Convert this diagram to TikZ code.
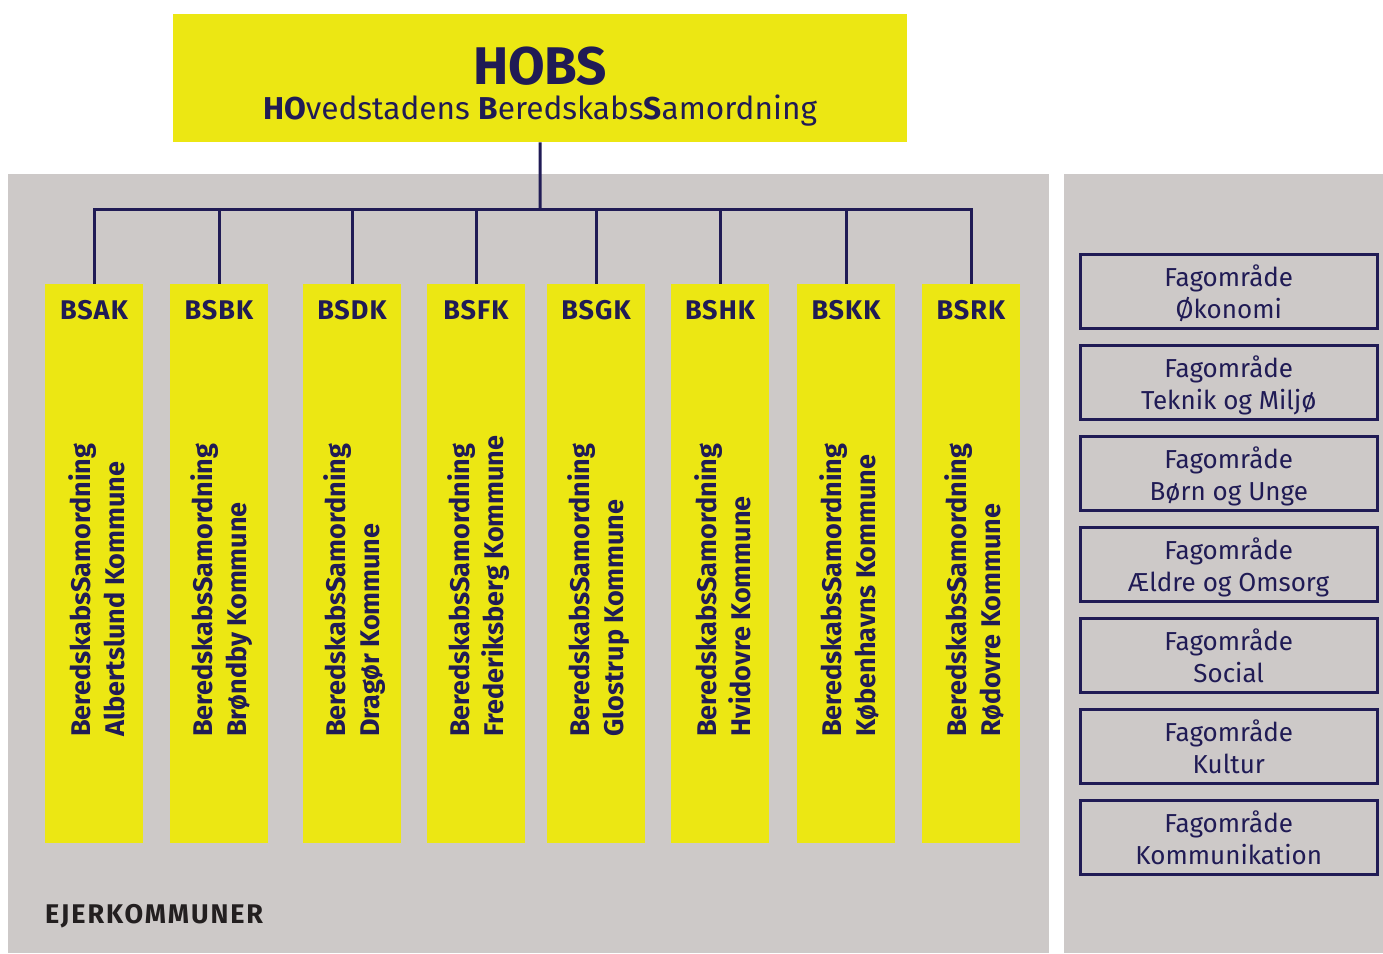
\documentclass[tikz,border=0pt]{standalone}
\usepackage{fontspec}
\setmainfont{Fira Sans}
\definecolor{hyellow}{HTML}{ECE713}
\definecolor{hgray}{HTML}{CDC9C8}
\definecolor{hnavy}{HTML}{201B55}
\definecolor{hdark}{HTML}{231F20}
\begin{document}
\begin{tikzpicture}[x=1pt,y=-1pt,
  panel/.style={fill=hgray,draw=none,anchor=north west,inner sep=0,outer sep=0},
  colbox/.style={fill=hyellow,draw=none,anchor=north west,inner sep=0,outer sep=0,minimum width=98,minimum height=559},
  collabel/.style={text=hnavy,font=\fontsize{27}{30}\selectfont\bfseries\addfontfeature{LetterSpace=4},inner sep=0},
  vtext/.style={text=hnavy,font=\fontsize{27}{34}\selectfont\bfseries,rotate=90,anchor=west,align=left,inner sep=0},
  fagbox/.style={draw=hnavy,line width=2.5,anchor=north west,inner sep=0,minimum width=297,minimum height=74,align=center,text=hnavy,font=\fontsize{26}{32}\selectfont},
  link/.style={draw=hnavy,line width=3}]
\useasboundingbox (0,0) rectangle (1383,953);
\fill[white] (0,0) rectangle (1383,953);
\node[panel,minimum width=1041,minimum height=779] (left) at (8,174) {};
\node[panel,minimum width=319,minimum height=779] (right) at (1064,174) {};
\node[fill=hyellow,anchor=north west,inner sep=0,minimum width=734,minimum height=128] (hobs) at (173,14) {};
\node[text=hnavy,font=\fontsize{53}{53}\selectfont\bfseries,inner sep=0] (hobst) at (540,66) {HOBS};
\node[text=hnavy,font=\fontsize{31.6}{32}\selectfont,inner sep=0] (hobss) at (540,111) {\textbf{HO}vedstadens \textbf{B}eredskabs\textbf{S}amordning};
\coordinate (bus) at (540,209);
\foreach \n/\x/\ab/\la/\lb in {1/45/BSAK/BeredskabsSamordning/Albertslund Kommune,
  2/170/BSBK/BeredskabsSamordning/Brøndby Kommune,
  3/303/BSDK/BeredskabsSamordning/Dragør Kommune,
  4/427/BSFK/BeredskabsSamordning/Frederiksberg Kommune,
  5/547/BSGK/BeredskabsSamordning/Glostrup Kommune,
  6/671/BSHK/BeredskabsSamordning/Hvidovre Kommune,
  7/797/BSKK/BeredskabsSamordning/Københavns Kommune,
  8/922/BSRK/BeredskabsSamordning/Rødovre Kommune}{
  \node[colbox] (c\n) at (\x,284) {};
  \node[collabel] (l\n) at (\x+49,310) {\ab};
  \node[vtext] (v\n) at (\x+52,737) {\la\\\lb};
  \draw[link] (bus) -| (c\n.north);
}
\draw[link] (hobs.south) -- (bus);
\foreach \n/\y/\t in {1/253/Økonomi,2/344/Teknik og Miljø,3/435/Børn og Unge,4/526/Ældre og Omsorg,5/617/Social,6/708/Kultur,7/799/Kommunikation}{
  \node[fagbox,text depth=0pt] (f\n) at (1079,\y) {Fagområde\\\t};
}
\node[text=hdark,font=\fontsize{27}{27}\selectfont\bfseries\addfontfeature{LetterSpace=7},anchor=west,inner sep=0] (ejer) at (45,916) {EJERKOMMUNER};
\end{tikzpicture}
\end{document}
